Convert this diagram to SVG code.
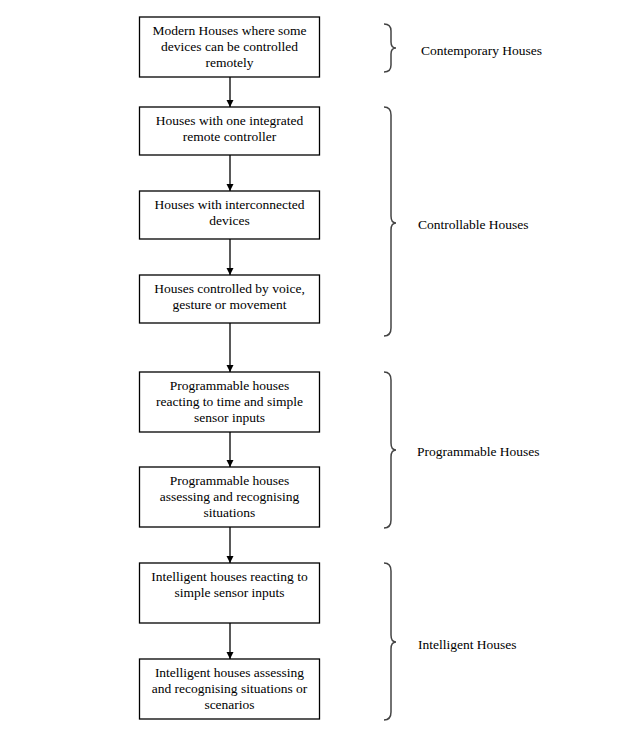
<svg xmlns="http://www.w3.org/2000/svg" width="637" height="733" viewBox="0 0 637 733">
<style>
.box{fill:#fff;stroke:#000;stroke-width:1.3}
.t{font-family:"Liberation Serif","Times New Roman",serif;font-size:13.5px;fill:#000;text-anchor:middle}
.l{font-family:"Liberation Serif","Times New Roman",serif;font-size:13.5px;fill:#000}
.arr{stroke:#000;stroke-width:1.3;fill:none}
.brace{fill:none;stroke:#444;stroke-width:1.5}
</style>
<defs>
<marker id="ah" markerWidth="8" markerHeight="8" refX="7" refY="4" orient="auto" markerUnits="userSpaceOnUse">
<path d="M0,0.5 L7,4 L0,7.5 Z" fill="#000"/>
</marker>
</defs>
<rect width="637" height="733" fill="#fff"/>
<g id="connectors">
<line class="arr" x1="230" y1="77" x2="230" y2="107" marker-end="url(#ah)"/>
<line class="arr" x1="230" y1="155" x2="230" y2="191" marker-end="url(#ah)"/>
<line class="arr" x1="230" y1="239" x2="230" y2="275" marker-end="url(#ah)"/>
<line class="arr" x1="230" y1="323" x2="230" y2="372" marker-end="url(#ah)"/>
<line class="arr" x1="230" y1="432" x2="230" y2="467" marker-end="url(#ah)"/>
<line class="arr" x1="230" y1="527" x2="230" y2="563" marker-end="url(#ah)"/>
<line class="arr" x1="230" y1="623" x2="230" y2="659" marker-end="url(#ah)"/>
</g>
<g id="n1"><rect class="box" x="139.5" y="17" width="180" height="60"/>
<text class="t" x="229.5" y="34.5">Modern Houses where some</text>
<text class="t" x="229.5" y="50.5">devices can be controlled</text>
<text class="t" x="229.5" y="66.5">remotely</text></g>
<g id="n2"><rect class="box" x="139.5" y="107" width="180" height="48"/>
<text class="t" x="229.5" y="125">Houses with one integrated</text>
<text class="t" x="229.5" y="141">remote controller</text></g>
<g id="n3"><rect class="box" x="139.5" y="191" width="180" height="48"/>
<text class="t" x="229.5" y="209">Houses with interconnected</text>
<text class="t" x="229.5" y="225">devices</text></g>
<g id="n4"><rect class="box" x="139.5" y="275" width="180" height="48"/>
<text class="t" x="229.5" y="293">Houses controlled by voice,</text>
<text class="t" x="229.5" y="309">gesture or movement</text></g>
<g id="n5"><rect class="box" x="139.5" y="372" width="180" height="60"/>
<text class="t" x="229.5" y="389.5">Programmable houses</text>
<text class="t" x="229.5" y="405.5">reacting to time and simple</text>
<text class="t" x="229.5" y="421.5">sensor inputs</text></g>
<g id="n6"><rect class="box" x="139.5" y="467" width="180" height="60"/>
<text class="t" x="229.5" y="484.5">Programmable houses</text>
<text class="t" x="229.5" y="500.5">assessing and recognising</text>
<text class="t" x="229.5" y="516.5">situations</text></g>
<g id="n7"><rect class="box" x="139.5" y="563" width="180" height="60"/>
<text class="t" x="229.5" y="580.5">Intelligent houses reacting to</text>
<text class="t" x="229.5" y="596.5">simple sensor inputs</text></g>
<g id="n8"><rect class="box" x="139.5" y="659" width="180" height="60"/>
<text class="t" x="229.5" y="676.5">Intelligent houses assessing</text>
<text class="t" x="229.5" y="692.5">and recognising situations or</text>
<text class="t" x="229.5" y="708.5">scenarios</text></g>
<g id="brace1"><path class="brace" d="M384,24 Q391,24 391,31 L391,42 Q391,48 396,48 Q391,48 391,54 L391,65 Q391,72 384,72"/>
<text class="l" x="421" y="54.5">Contemporary Houses</text></g>
<g id="brace2"><path class="brace" d="M384,107 Q391,107 391,115 L391,216 Q391,223 396,223 Q391,223 391,230 L391,328 Q391,336 384,336"/>
<text class="l" x="418" y="228.5">Controllable Houses</text></g>
<g id="brace3"><path class="brace" d="M384,372 Q391,372 391,380 L391,443 Q391,450 396,450 Q391,450 391,457 L391,520 Q391,528 384,528"/>
<text class="l" x="417" y="455.5">Programmable Houses</text></g>
<g id="brace4"><path class="brace" d="M384,563 Q391,563 391,571 L391,635 Q391,642 396,642 Q391,642 391,649 L391,712 Q391,720 384,720"/>
<text class="l" x="418" y="648.5">Intelligent Houses</text></g>
</svg>
